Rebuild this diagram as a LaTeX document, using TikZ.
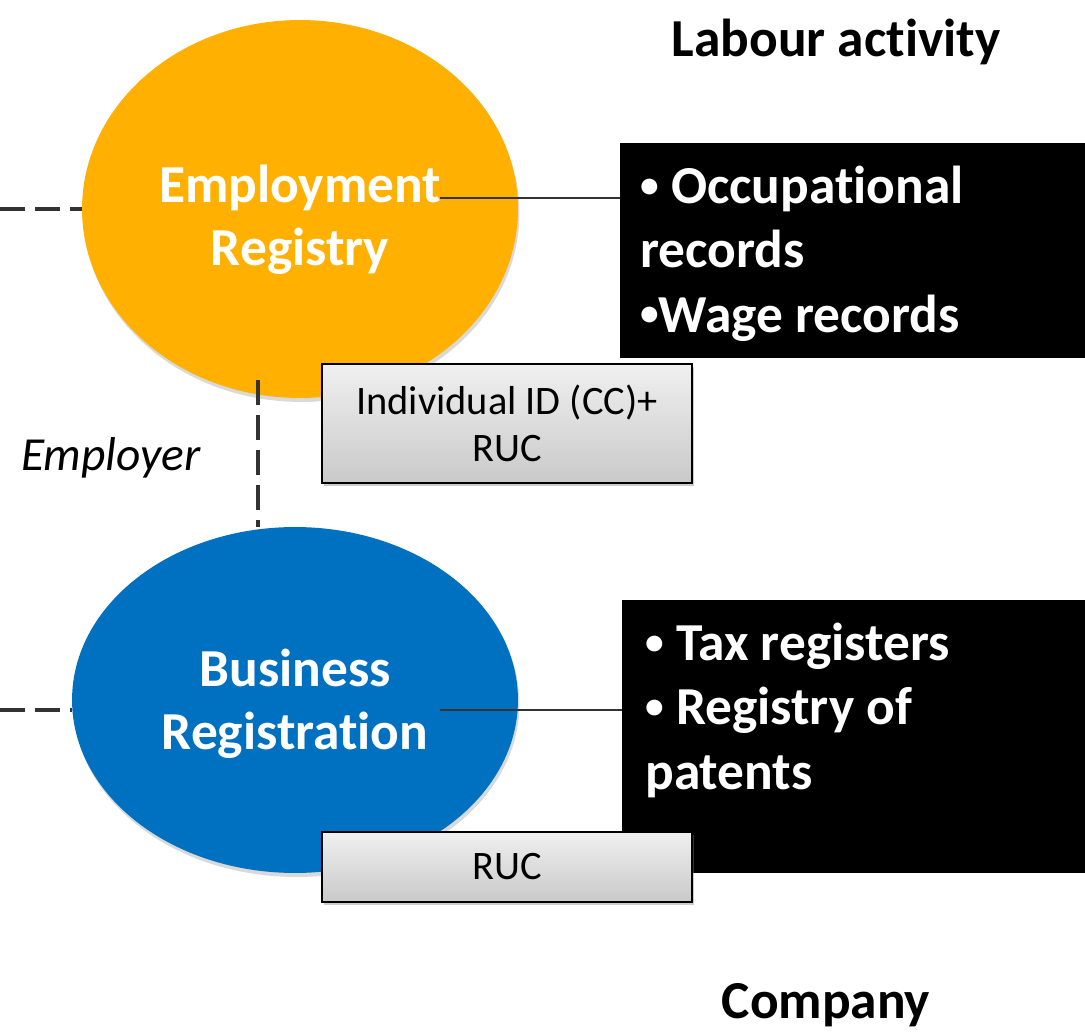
\documentclass[tikz,border=0pt]{standalone}
\usepackage{fontspec}
\setmainfont[Ligatures={NoCommon}]{Carlito}
\usepackage{tikz}
\usetikzlibrary{positioning}
\usetikzlibrary{shapes.geometric,shadows}
\definecolor{regorange}{HTML}{FFB000}
\definecolor{regblue}{HTML}{0070C0}
\definecolor{linkgray}{HTML}{333333}
\newcommand{\smallbul}{\raisebox{0.12em}{\scalebox{0.7}{\textbullet}}}
\tikzset{
  regist/.style={ellipse, inner sep=0pt, drop shadow={shadow xshift=0.03cm, shadow yshift=-0.08cm, opacity=0.3}},
  regtxt/.style={text=white, font=\fontsize{30.4}{36}\selectfont\bfseries, align=center},
  keybox/.style={draw=black, line width=0.9pt, top color=gray!12, bottom color=gray!42, minimum width=7.4cm, font=\fontsize{23}{27}\selectfont, align=center, drop shadow={shadow xshift=0.04cm, shadow yshift=-0.06cm, opacity=0.4}},
  infobox/.style={fill=black, inner sep=0pt, minimum width=9.7cm},
  infotxt/.style={text=white, font=\fontsize{30.4}{36.5}\selectfont\bfseries, align=left, inner sep=0pt, anchor=north west},
  dashlink/.style={draw=linkgray, line width=2pt, dash pattern=on 0.5cm off 0.2cm},
  link/.style={draw=linkgray, line width=1.3pt},
  heading/.style={font=\fontsize{30.4}{36}\selectfont\bfseries}
}
\begin{document}
\begin{tikzpicture}[x=0.02cm, y=-0.02cm]
\useasboundingbox (0,0) rectangle (1085,1033);
% registries
\node[regist, fill=regorange, minimum width=8.72cm, minimum height=7.56cm] (emp) at (300,209) {};
\node[regist, fill=regblue, minimum width=8.92cm, minimum height=6.92cm] (bus) at (295,700) {};
\node[regtxt] (emptxt) at (300,220) {Employment\\Registry};
\node[regtxt] (bustxt) at (295,704) {Business\\Registration};
% record boxes
\node[infobox, anchor=north west, minimum height=4.3cm] (occbox) at (620,143) {};
\node[infotxt] (occtxt) at (640,166) {\smallbul\ Occupational\\records\\\smallbul Wage records};
\node[infobox, anchor=north west, minimum height=5.46cm] (taxbox) at (622,600) {};
\node[infotxt] (taxtxt) at (645,623) {\smallbul\ Tax registers\\\smallbul\ Registry of\\patents};
% links
\coordinate (empl) at (0,209);
\coordinate (busl) at (0,710);
\coordinate (emprt) at (440,198);
\coordinate (busrt) at (440,710);
\coordinate (empbot) at (258,380);
\coordinate (bustop) at (258,527);
\draw[dashlink] (empl) -- (empl -| emp.west);
\draw[dashlink] (busl) -- (busl -| bus.west);
\draw[dashlink] (empbot) -- (bustop);
\draw[link] (emprt) -- (emprt -| occbox.west);
\draw[link] (busrt) -- (busrt -| taxbox.west);
% keys
\node[keybox, minimum height=2.38cm] (idkey) at (507,423.5) {Individual ID (CC)+\\RUC};
\node[keybox, minimum height=1.4cm] (ruckey) at (507,867) {RUC};
% labels
\node[font=\fontsize{27}{32}\selectfont\itshape] (employer) at (111,458) {Employer};
\node[heading] (labour) at (836,42) {Labour activity};
\node[heading] (company) at (826,1005) {Company};
\end{tikzpicture}
\end{document}
